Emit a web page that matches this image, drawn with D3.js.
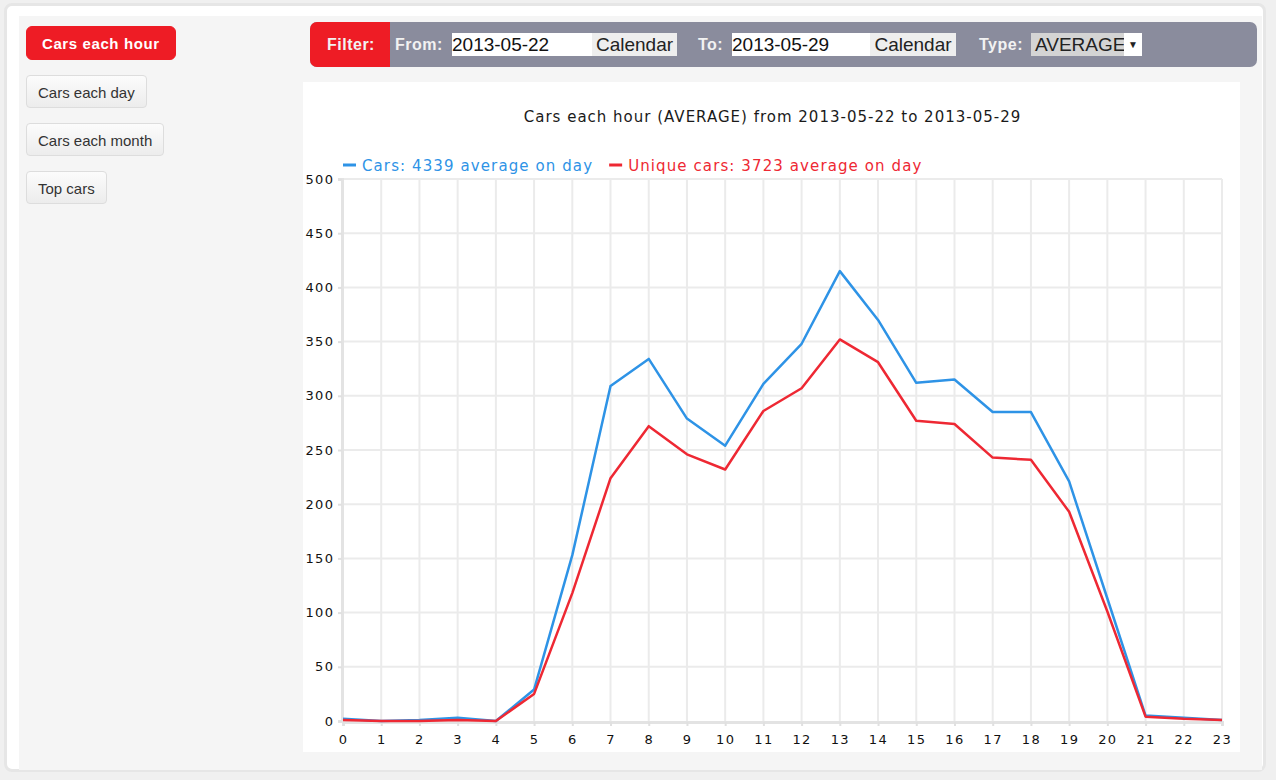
<!DOCTYPE html>
<html>
<head>
<meta charset="utf-8">
<script src="https://cdn.jsdelivr.net/npm/d3@7"></script>
<style>
  body { margin: 0; background: #f0f0f0; font-family: "Liberation Sans", Arial, sans-serif; }
  #frame { position: absolute; left: 4px; top: 3px; width: 1256px; height: 763px; background: #fff;
           border: 3px solid #e6e6e6; border-radius: 8px; }
  #panel { position: absolute; left: 19px; top: 16px; width: 1243px; height: 754px; background: #f5f5f5; }
  .btn { position: absolute; left: 26px; height: 33px; line-height: 33px; font-size: 15px; color: #333;
         border: 1px solid #ddd; border-radius: 4px; padding: 0 11px;
         background: linear-gradient(#fcfcfc, #ececec); box-sizing: border-box; }
  .btn.active { background: #ee1c25; color: #fff; font-weight: bold; border-color: #ee1c25; border-radius: 6px;
                height: 34px; line-height: 34px; padding: 0 15px; letter-spacing: 0.6px; }
  #filter { position: absolute; left: 310px; top: 22px; width: 947px; height: 45px; background: #8a8c9d;
            border-radius: 7px; overflow: hidden; }
  #filter .lab { position: absolute; top: 0; line-height: 45px; font-size: 16px; letter-spacing: 0.5px; font-weight: bold; color: #f2f2f2; }
  #filter .red { position: absolute; left: 0; top: 0; width: 80px; height: 45px; background: #ee1c25; }
  #filter .inp { position: absolute; top: 11px; height: 23px; line-height: 23px; background: #fff; font-size: 19px; color: #111; }
  #filter .cal { position: absolute; top: 11px; height: 23px; line-height: 23px; background: #eee; font-size: 19px; color: #222; text-align: center; }
  #chart { position: absolute; left: 303px; top: 82px; }
</style>
</head>
<body>
<div id="frame"></div>
<div id="panel"></div>
<div class="btn active" style="top:26px">Cars each hour</div>
<div class="btn" style="top:75px">Cars each day</div>
<div class="btn" style="top:123px">Cars each month</div>
<div class="btn" style="top:171px">Top cars</div>
<div id="filter">
  <div class="red"></div>
  <div class="lab" style="left:17px">Filter:</div>
  <div class="lab" style="left:85px">From:</div>
  <div class="inp" style="left:142px;width:140px">2013-05-22</div>
  <div class="cal" style="left:282px;width:85px">Calendar</div>
  <div class="lab" style="left:388px">To:</div>
  <div class="inp" style="left:422px;width:138px">2013-05-29</div>
  <div class="cal" style="left:560px;width:86px">Calendar</div>
  <div class="lab" style="left:669px">Type:</div>
  <div class="cal" style="left:721px;width:93px;background:#d4d4d4;text-align:left;padding-left:4px;box-sizing:border-box">AVERAGE</div>
  <div class="cal" style="left:814px;width:18px;background:#fff;font-size:10px">&#9660;</div>
</div>
<div id="chart"></div>
<script>
var hours = d3.range(0, 24);
var carsValues = [2, 0, 1, 3, 0, 29, 153, 309, 334, 279, 254, 311, 348, 415, 370, 312, 315, 285, 285, 221, 113, 5, 3, 1];
var uniqueValues = [1, 0, 0, 1, 0, 25, 118, 224, 272, 246, 232, 286, 307, 352, 331, 277, 274, 243, 241, 193, 101, 4, 2, 1];
var yTicks = [0, 50, 100, 150, 200, 250, 300, 350, 400, 450, 500];
var chartTitle = "Cars each hour (AVERAGE) from 2013-05-22 to 2013-05-29";
var seriesNames = ["Cars: 4339 average on day", "Unique cars: 3723 average on day"];
var seriesColors = ["#2e93e6", "#ee2833"];

var width = 937, height = 670;
var svg = d3.select("#chart").append("svg")
    .attr("width", width)
    .attr("height", height)
    .style("background", "#fff")
    .style("display", "block");

var x = d3.scaleLinear().domain([0, 23]).range([40, 919]);
var y = d3.scaleLinear().domain([0, 500]).range([639, 97]);

// grid
svg.append("g").selectAll("line")
    .data(hours.slice(1))
    .enter().append("line")
    .attr("x1", d => x(d)).attr("x2", d => x(d))
    .attr("y1", y(500)).attr("y2", y(0))
    .attr("stroke", "#ebebeb").attr("stroke-width", 2);
svg.append("g").selectAll("line")
    .data(yTicks.slice(1))
    .enter().append("line")
    .attr("x1", x(0)).attr("x2", x(23))
    .attr("y1", d => y(d)).attr("y2", d => y(d))
    .attr("stroke", "#ebebeb").attr("stroke-width", 2);

// axes
var yAxis = svg.append("g")
    .attr("transform", "translate(" + (x(0) - 1) + ",0)")
    .call(d3.axisLeft(y).tickValues(yTicks).tickSize(4).tickPadding(5));
var xAxis = svg.append("g")
    .attr("transform", "translate(0," + (y(0) + 1) + ")")
    .call(d3.axisBottom(x).tickValues(hours).tickSize(4).tickPadding(9));
[yAxis, xAxis].forEach(function(a) {
    a.select(".domain").attr("stroke", "#e3e3e3").attr("stroke-width", 3);
    a.selectAll(".tick line").attr("stroke", "#e0e0e0").attr("stroke-width", 2);
    a.selectAll("text").attr("fill", "#111")
        .style("font-family", "'DejaVu Sans', Verdana, sans-serif").style("font-size", "13px")
        .style("letter-spacing", "1.4px");
});
yAxis.selectAll("text").attr("dx", "1.4px");

// lines
var line = d3.line().x((d, i) => x(hours[i])).y(d => y(d));
[carsValues, uniqueValues].forEach(function(vals, i) {
    svg.append("path")
        .datum(vals)
        .attr("d", line)
        .attr("fill", "none")
        .attr("stroke", seriesColors[i])
        .attr("stroke-width", 2.5)
        .attr("stroke-linejoin", "round");
});

// title
svg.append("text")
    .attr("x", width / 2 + 1).attr("y", 40)
    .attr("text-anchor", "middle")
    .attr("fill", "#1a1a1a")
    .style("font-family", "'DejaVu Sans', Verdana, sans-serif").style("font-size", "15px")
    .style("letter-spacing", "1px")
    .text(chartTitle);

// legend
var lx = 40;
seriesNames.forEach(function(name, i) {
    var g = svg.append("g").attr("transform", "translate(" + lx + ",83)");
    g.append("line").attr("x1", 0).attr("x2", 13).attr("y1", 0).attr("y2", 0)
        .attr("stroke", seriesColors[i]).attr("stroke-width", 3);
    var t = g.append("text").attr("x", 19).attr("y", 5.5)
        .attr("fill", seriesColors[i])
        .style("font-family", "'DejaVu Sans', Verdana, sans-serif").style("font-size", "15px")
        .style("letter-spacing", "1.1px")
        .text(name);
    lx += 19 + t.node().getComputedTextLength() + 16;
});
</script>
</body>
</html>
